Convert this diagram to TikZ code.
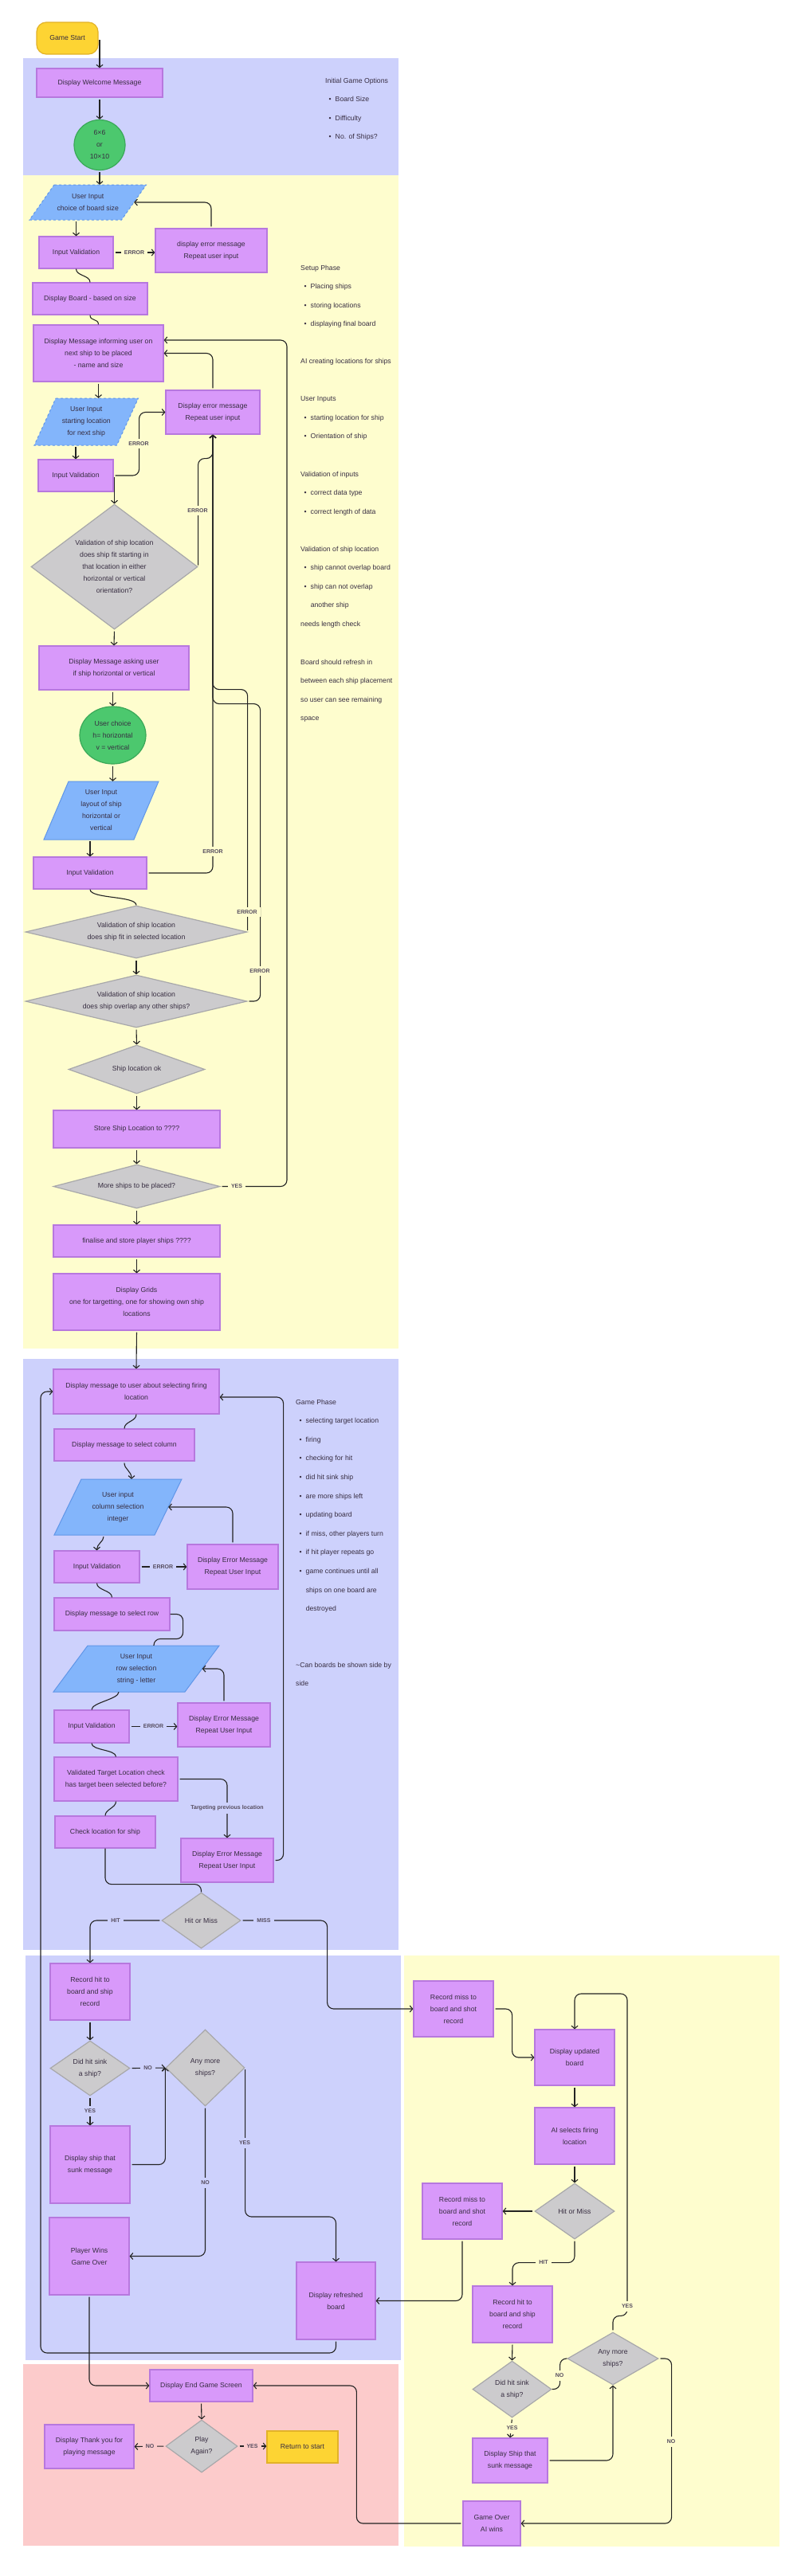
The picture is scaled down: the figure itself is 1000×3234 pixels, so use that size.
\documentclass[tikz,border=0pt]{standalone}
\usepackage{fontspec}
\setmainfont{Liberation Sans}
\usetikzlibrary{shapes.geometric,calc,arrows.meta}
\definecolor{panelBlue}{RGB}{205,209,252}
\definecolor{panelYellow}{RGB}{254,253,206}
\definecolor{panelRed}{RGB}{252,203,203}
\definecolor{processFill}{RGB}{216,153,250}
\definecolor{processLine}{RGB}{183,120,222}
\definecolor{decisionFill}{RGB}{204,203,205}
\definecolor{decisionLine}{RGB}{168,168,170}
\definecolor{inputFill}{RGB}{131,181,251}
\definecolor{inputLine}{RGB}{96,150,232}
\definecolor{choiceFill}{RGB}{76,200,110}
\definecolor{choiceLine}{RGB}{58,168,88}
\definecolor{terminalFill}{RGB}{253,212,51}
\definecolor{terminalLine}{RGB}{226,178,40}
\definecolor{textColor}{RGB}{55,45,65}
\definecolor{arrowColor}{RGB}{35,35,35}
\tikzstyle{flowchart} = [x=1pt, y=-1pt]
\tikzstyle{boxText} = [font=\fontsize{8.7}{15}\selectfont, text=textColor, align=center, inner sep=0pt]
\tikzstyle{processStyle} = [boxText, rectangle, draw=processLine, fill=processFill, line width=1.2pt]
\tikzstyle{decisionStyle} = [boxText, diamond, draw=decisionLine, fill=decisionFill, line width=1.2pt]
\tikzstyle{choiceStyle} = [boxText, ellipse, draw=choiceLine, fill=choiceFill, line width=1.2pt]
\tikzstyle{terminalStyle} = [boxText, rectangle, draw=terminalLine, fill=terminalFill, line width=1.2pt]
\tikzstyle{inputStyle} = [draw=inputLine, fill=inputFill, line width=1pt]
\tikzstyle{flowLine} = [draw=arrowColor, line width=1.1pt, rounded corners=8pt]
\tikzstyle{flowArrow} = [flowLine, -{Straight Barb[length=3.5pt, width=8pt]}, shorten <=2pt]
\tikzstyle{flowLabel} = [font=\bfseries\fontsize{7}{8}\selectfont, text=textColor!85, inner xsep=4pt, inner ysep=4pt]
\tikzstyle{noteText} = [font=\fontsize{8.7}{23.6}\selectfont, text=textColor, align=left, anchor=north west, inner sep=0pt]
\newcommand{\processBox}[6]{\node [processStyle, minimum width=#4, minimum height=#5] (#1) at (#2,#3) {#6};}
\newcommand{\decisionBox}[6]{\pgfmathsetmacro{\diamondAspect}{#4/#5}\node [decisionStyle, aspect=\diamondAspect, minimum width=#4, minimum height=#5] (#1) at (#2,#3) {#6};}
\newcommand{\choiceBox}[6]{\node [choiceStyle, minimum width=#4, minimum height=#5] (#1) at (#2,#3) {#6};}
\newcommand{\inputBox}[8]{\filldraw [inputStyle, #7] ({#2-#4/2+#6/2},{#3-#5/2}) -- ({#2+#4/2+#6/2},{#3-#5/2}) -- ({#2+#4/2-#6/2},{#3+#5/2}) -- ({#2-#4/2-#6/2},{#3+#5/2}) -- cycle; \node [boxText, minimum width=#4, minimum height=#5] (#1) at (#2,#3) {#8};}
\newcommand{\phasePanel}[5]{\fill [#5] (#1,#2) rectangle (#3,#4);}
\newcommand{\flowLabelAt}[5]{\node [flowLabel, fill=#4] (#1) at (#2,#3) {#5};}
\newcommand{\noteItem}{\hspace*{4.5pt}\textbullet\hspace*{5pt}}
\newcommand{\noteIndent}{\hspace*{12.6pt}}
\begin{document}
\begin{tikzpicture}[flowchart]
\useasboundingbox (0,0) rectangle (1000,3234);
\phasePanel{29}{73}{500}{220}{panelBlue}
\phasePanel{29}{220}{500}{1693}{panelYellow}
\phasePanel{29}{1706}{500}{2448}{panelBlue}
\phasePanel{32}{2455}{503}{2963}{panelBlue}
\phasePanel{507}{2455}{978}{3197}{panelYellow}
\phasePanel{29}{2968}{500}{3196}{panelRed}

\node [terminalStyle, rounded corners=12pt, minimum width=77, minimum height=40] (gameStart) at (84.5,48) {Game Start};
\processBox{welcome}{125}{104}{158}{36}{Display Welcome Message}
\choiceBox{sizeChoice}{125}{182}{64}{63}{6×6\\or\\10×10}
\inputBox{sizeInput}{110.25}{254}{115.5}{44}{31}{dashed}{User Input\\choice of board size}
\processBox{sizeCheck}{95.5}{317}{93}{40}{Input Validation}
\processBox{sizeError}{265}{314.5}{140}{55}{display error message\\Repeat user input}
\processBox{showBoard}{113}{375}{144}{40}{Display Board - based on size}
\processBox{nextShip}{123.5}{443.5}{163}{71}{Display Message informing user on\\next ship to be placed\\- name and size}
\processBox{placeError}{267}{517.5}{118}{55}{Display error message\\Repeat user input}
\inputBox{startInput}{108.25}{529.5}{103.5}{59}{27}{dashed}{User Input\\starting location\\for next ship}
\processBox{startCheck}{95}{597}{94}{40}{Input Validation}
\decisionBox{fitStart}{143.5}{711.5}{209}{157}{Validation of ship location\\does ship fit starting in\\that location in either\\horizontal or vertical\\orientation?}
\processBox{askLayout}{143}{838.5}{188}{55}{Display Message asking user\\if ship horizontal or vertical}
\choiceBox{layoutChoice}{141.5}{923}{83}{72}{User choice\\h= horizontal\\v = vertical}
\inputBox{layoutInput}{127}{1017.5}{113}{73}{31}{}{User Input\\layout of ship\\horizontal or\\vertical}
\processBox{layoutCheck}{113}{1096}{142}{40}{Input Validation}
\decisionBox{fitSelected}{171}{1170}{278}{66}{Validation of ship location\\does ship fit in selected location}
\decisionBox{overlapCheck}{171}{1257}{278}{66}{Validation of ship location\\does ship overlap any other ships?}
\decisionBox{locationOk}{171.5}{1342.5}{171}{61}{Ship location ok}
\processBox{storeShip}{171.5}{1417.5}{209}{47}{Store Ship Location to ????}
\decisionBox{moreShips}{171.5}{1489.5}{209}{55}{More ships to be placed?}
\processBox{finaliseShips}{171.5}{1558}{209}{40}{finalise and store player ships ????}
\processBox{showGrids}{171.5}{1634.5}{209}{71}{Display Grids\\one for targetting, one for showing own ship\\locations}

\processBox{fireMsg}{171}{1747}{208}{56}{Display message to user about selecting firing\\location}
\processBox{columnMsg}{156}{1814}{176}{40}{Display message to select column}
\inputBox{columnInput}{148}{1892}{126}{70}{34}{}{User input\\column selection\\integer}
\processBox{columnCheck}{121.5}{1967}{107}{40}{Input Validation}
\processBox{columnError}{292}{1967}{114}{56}{Display Error Message\\Repeat User Input}
\processBox{rowMsg}{140.5}{2026.5}{145}{41}{Display message to select row}
\inputBox{rowInput}{171}{2095}{165}{58}{43}{}{User Input\\row selection\\string - letter}
\processBox{rowCheck}{115}{2167.5}{94}{41}{Input Validation}
\processBox{rowError}{281}{2165.5}{116}{55}{Display Error Message\\Repeat User Input}
\processBox{targetCheck}{145.5}{2233.5}{155}{55}{Validated Target Location check\\has target been selected before?}
\processBox{shipCheck}{132}{2300}{126}{40}{Check location for ship}
\processBox{targetError}{285}{2335.5}{116}{55}{Display Error Message\\Repeat User Input}
\decisionBox{playerHit}{252.5}{2411}{99}{70}{Hit or Miss}
\processBox{playerHitRecord}{113}{2500.5}{100}{71}{Record hit to\\board and ship\\record}
\decisionBox{playerSink}{113}{2596.5}{100}{69}{Did hit sink\\a ship?}
\decisionBox{playerAnyMore}{257.5}{2596}{99}{96}{Any more\\ships?}
\processBox{playerSunk}{113}{2717.5}{100}{97}{Display ship that\\sunk message}
\processBox{playerWins}{112}{2832.5}{100}{97}{Player Wins\\Game Over}
\processBox{refreshBoard}{421.5}{2888.5}{99}{97}{Display refreshed\\board}

\processBox{aiMissRecord}{569}{2522}{100}{70}{Record miss to\\board and shot\\record}
\processBox{aiBoard}{721}{2583}{100}{70}{Display updated\\board}
\processBox{aiSelect}{721}{2681.5}{100}{71}{AI selects firing\\location}
\decisionBox{aiHit}{721}{2776}{100}{70}{Hit or Miss}
\processBox{aiMissRecordB}{580}{2776}{100}{70}{Record miss to\\board and shot\\record}
\processBox{aiHitRecord}{643}{2905.5}{100}{71}{Record hit to\\board and ship\\record}
\decisionBox{aiSink}{642.5}{2999.5}{99}{71}{Did hit sink\\a ship?}
\decisionBox{aiAnyMore}{769}{2961}{114}{66}{Any more\\ships?}
\processBox{aiSunk}{640}{3089}{94}{56}{Display Ship that\\sunk message}
\processBox{aiWins}{617}{3168}{72}{56}{Game Over\\AI wins}

\processBox{endScreen}{252.5}{2995}{129}{40}{Display End Game Screen}
\decisionBox{playAgain}{253}{3071}{90}{66}{Play\\Again?}
\processBox{thanksMsg}{112}{3071.5}{112}{55}{Display Thank you for\\playing message}
\node [terminalStyle, minimum width=89, minimum height=40] (returnStart) at (379.5,3072) {Return to start};

\node [noteText] (optionsNote) at (408,97.5) {Initial Game Options\\\noteItem Board Size\\\noteItem Difficulty\\\noteItem No. of Ships?};
\node [noteText] (setupNote) at (377,332.5) {Setup Phase\\\noteItem Placing ships\\\noteItem storing locations\\\noteItem displaying final board};
\node [noteText] (aiNote) at (377,449.5) {AI creating locations for ships};
\node [noteText] (inputsNote) at (377,497.5) {User Inputs\\\noteItem starting location for ship\\\noteItem Orientation of ship};
\node [noteText] (validNote) at (377,591.5) {Validation of inputs\\\noteItem correct data type\\\noteItem correct length of data};
\node [noteText] (shipValidNote) at (377,685.5) {Validation of ship location\\\noteItem ship cannot overlap board\\\noteItem ship can not overlap\\\noteIndent another ship\\needs length check};
\node [noteText] (refreshNote) at (377,827.5) {Board should refresh in\\between each ship placement\\so user can see remaining\\space};
\node [noteText] (gameNote) at (371,1756.5) {Game Phase\\\noteItem selecting target location\\\noteItem firing\\\noteItem checking for hit\\\noteItem did hit sink ship\\\noteItem are more ships left\\\noteItem updating board\\\noteItem if miss, other players turn\\\noteItem if hit player repeats go\\\noteItem game continues until all\\\noteIndent ships on one board are\\\noteIndent destroyed};
\node [noteText] (sideNote) at (371,2086.5) {\textasciitilde Can boards be shown side by\\side};

\draw [flowArrow] (welcome.north |- gameStart.east) -- (welcome.north);
\draw [flowArrow] (welcome.south) -- (sizeChoice.north);
\draw [flowArrow] (sizeChoice.south) -- (sizeChoice.south |- sizeInput.north);
\draw [flowArrow] (sizeCheck.north |- sizeInput.south) -- (sizeCheck.north);
\draw [flowArrow] (sizeCheck.east) -- (sizeCheck.east -| sizeError.west);
\draw [flowArrow] (sizeError.north) |- (sizeInput.east);
\draw [flowLine] (sizeCheck.south) .. controls +(0,9) and +(0,-9) .. (showBoard.north);
\draw [flowLine] (showBoard.south) .. controls +(0,8) and +(0,-8) .. (nextShip.north);
\draw [flowArrow] (nextShip.south) -- (nextShip.south |- startInput.north);
\draw [flowArrow] (startCheck.north |- startInput.south) -- (startCheck.north);
\draw [flowArrow] (startCheck.east) -- ++(32,0) |- (placeError.west);
\draw [flowArrow] (fitStart.north |- startCheck.east) -- (fitStart.north);
\draw [flowArrow] (fitStart.east) |- ($(placeError.south)+(0,30)$) -- (placeError.south);
\draw [flowArrow] (placeError.north) |- (nextShip.east);
\draw [flowArrow] (fitStart.south) -- (askLayout.north);
\draw [flowArrow] (layoutChoice.north |- askLayout.south) -- (layoutChoice.north);
\draw [flowArrow] (layoutChoice.south) -- (layoutChoice.south |- layoutInput.north);
\draw [flowArrow] (layoutCheck.north |- layoutInput.south) -- (layoutCheck.north);
\draw [flowArrow] (layoutCheck.east) -| (placeError.south);
\draw [flowLine] (layoutCheck.south) .. controls +(0,12) and +(0,-12) .. (fitSelected.north);
\draw [flowArrow] (fitSelected.east) |- ($(placeError.south)+(0,320)$) -- (placeError.south);
\draw [flowArrow] (overlapCheck.east) -- ++(16,0) |- ($(placeError.south)+(0,338)$) -- (placeError.south);
\draw [flowArrow] (fitSelected.south) -- (overlapCheck.north);
\draw [flowArrow] (overlapCheck.south) -- (locationOk.north);
\draw [flowArrow] (locationOk.south) -- (storeShip.north);
\draw [flowArrow] (storeShip.south) -- (moreShips.north);
\coordinate (placeLoop) at (360,427);
\draw [flowArrow] (moreShips.east) -| (placeLoop) -- (placeLoop -| nextShip.east);
\draw [flowArrow] (moreShips.south) -- (finaliseShips.north);
\draw [flowArrow] (finaliseShips.south) -- (showGrids.north);
\draw [flowArrow] (showGrids.south) -- (fireMsg.north);

\draw [flowLine] (fireMsg.south) .. controls +(0,9) and +(0,-9) .. (columnMsg.north);
\draw [flowArrow] (columnMsg.south) .. controls +(0,10) and +(0,-10) .. ([xshift=17pt]columnInput.north);
\draw [flowArrow] ([xshift=-18pt]columnInput.south) .. controls +(0,8) and +(0,-8) .. (columnCheck.north);
\draw [flowArrow] (columnCheck.east) -- (columnCheck.east -| columnError.west);
\draw [flowArrow] (columnError.north) |- (columnInput.east);
\draw [flowLine] (columnCheck.south) .. controls +(0,9) and +(0,-9) .. (rowMsg.north);
\draw [flowLine] (rowMsg.east) -- ++(16,0) -- ++(0,31) -| ([xshift=22pt]rowInput.north);
\draw [flowLine] ([xshift=-22pt]rowInput.south) .. controls +(0,9) and +(0,-9) .. (rowCheck.north);
\draw [flowArrow] (rowCheck.east) -- (rowCheck.east -| rowError.west);
\draw [flowArrow] (rowError.north) |- (rowInput.east);
\draw [flowLine] (rowCheck.south) .. controls +(0,9) and +(0,-9) .. (targetCheck.north);
\draw [flowArrow] (targetCheck.east) -| (targetError.north);
\draw [flowLine] (targetCheck.south) .. controls +(0,8) and +(0,-8) .. (shipCheck.north);
\draw [flowLine] (shipCheck.south) -- ++(0,45) -| (playerHit.north);
\draw [flowArrow] (targetError.east) -- ++(12,0) |- ([yshift=-7pt]fireMsg.east);
\draw [flowArrow] (playerHit.west) -| (playerHitRecord.north);
\draw [flowArrow] (playerHit.east) -- ++(108,0) |- (aiMissRecord.west);
\draw [flowArrow] (playerHitRecord.south) -- (playerSink.north);
\draw [flowArrow] (playerSink.east) -- (playerAnyMore.west);
\draw [flowArrow] (playerSink.south) -- (playerSunk.north);
\draw [flowArrow] (playerSunk.east) -| (playerAnyMore.west);
\draw [flowArrow] (playerAnyMore.south) |- (playerWins.east);
\draw [flowArrow] (playerAnyMore.east) -- ++(0,187) -| (refreshBoard.north);
\coordinate (gameLoop) at (51,2954);
\draw [flowArrow] (refreshBoard.south) |- (gameLoop) |- (fireMsg.west);
\draw [flowArrow] (playerWins.south) |- (endScreen.west);

\draw [flowArrow] (aiMissRecord.east) -- ++(23,0) |- (aiBoard.west);
\draw [flowArrow] (aiBoard.south) -- (aiSelect.north);
\draw [flowArrow] (aiSelect.south) -- (aiHit.north);
\draw [flowArrow] (aiHit.west) -- (aiMissRecordB.east);
\draw [flowArrow] (aiMissRecordB.south) |- (refreshBoard.east);
\draw [flowArrow] (aiHit.south) -- ++(0,29) -| (aiHitRecord.north);
\draw [flowArrow] (aiHitRecord.south) -- (aiSink.north);
\draw [flowLine] (aiSink.east) -- ++(10,0) |- (aiAnyMore.west);
\draw [flowArrow] (aiSink.south) -- (aiSunk.north);
\draw [flowArrow] (aiSunk.east) -| (aiAnyMore.south);
\coordinate (aiLoop) at (787,2503);
\draw [flowArrow] (aiAnyMore.north) -- ++(0,-20) -| (aiLoop) -| (aiBoard.north);
\draw [flowArrow] (aiAnyMore.east) -- ++(16,0) |- (aiWins.east);
\draw [flowArrow] (aiWins.west) -- ++(-133,0) |- (endScreen.east);

\draw [flowArrow] (endScreen.south) -- (playAgain.north);
\draw [flowArrow] (playAgain.west) -- (thanksMsg.east);
\draw [flowArrow] (playAgain.east) -- (playAgain.east -| returnStart.west);

\flowLabelAt{sizeErrorLabel}{168.5}{317}{panelYellow}{ERROR}
\flowLabelAt{startErrorLabel}{174}{557}{panelYellow}{ERROR}
\flowLabelAt{fitErrorLabel}{248}{641}{panelYellow}{ERROR}
\flowLabelAt{layoutErrorLabel}{267}{1069}{panelYellow}{ERROR}
\flowLabelAt{selectedErrorLabel}{310}{1145}{panelYellow}{ERROR}
\flowLabelAt{overlapErrorLabel}{326}{1219}{panelYellow}{ERROR}
\flowLabelAt{moreYesLabel}{297}{1489.5}{panelYellow}{YES}
\flowLabelAt{columnErrorLabel}{204.5}{1967}{panelBlue}{ERROR}
\flowLabelAt{rowErrorLabel}{192.5}{2167.5}{panelBlue}{ERROR}
\flowLabelAt{targetLabel}{285}{2270}{panelBlue}{Targeting previous location}
\flowLabelAt{playerHitLabel}{145}{2411}{panelBlue}{HIT}
\flowLabelAt{playerMissLabel}{331}{2411}{panelBlue}{MISS}
\flowLabelAt{playerSinkNo}{185.5}{2596.5}{panelBlue}{NO}
\flowLabelAt{playerSinkYes}{113}{2650}{panelBlue}{YES}
\flowLabelAt{playerMoreNo}{257.5}{2740}{panelBlue}{NO}
\flowLabelAt{playerMoreYes}{307}{2690}{panelBlue}{YES}
\flowLabelAt{playNoLabel}{188}{3071}{panelRed}{NO}
\flowLabelAt{playYesLabel}{316.5}{3071}{panelRed}{YES}
\flowLabelAt{aiHitLabel}{682}{2840}{panelYellow}{HIT}
\flowLabelAt{aiSinkNo}{702}{2982}{panelYellow}{NO}
\flowLabelAt{aiSinkYes}{642.5}{3048}{panelYellow}{YES}
\flowLabelAt{aiMoreYes}{787}{2895}{panelYellow}{YES}
\flowLabelAt{aiMoreNo}{842}{3065}{panelYellow}{NO}
\end{tikzpicture}
\end{document}
